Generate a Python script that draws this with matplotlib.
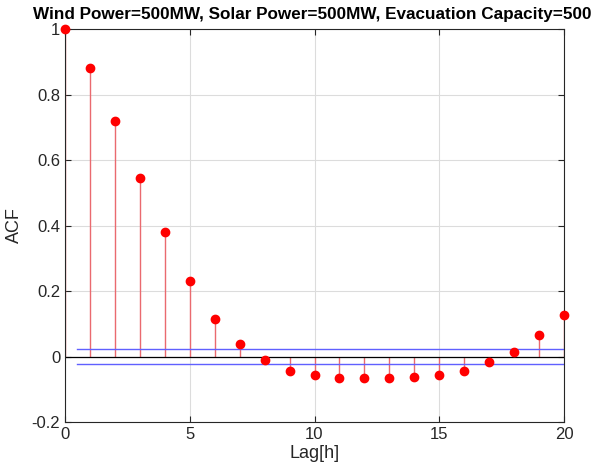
import matplotlib
matplotlib.use("Agg")
import matplotlib.pyplot as plt
from matplotlib.ticker import FuncFormatter

plt.rcParams['font.family'] = ['Liberation Sans', 'DejaVu Sans']

lags = list(range(21))
acf = [1.0, 0.881, 0.72, 0.546, 0.381, 0.232, 0.116, 0.038, -0.012, -0.043,
       -0.058, -0.065, -0.067, -0.067, -0.064, -0.057, -0.043, -0.018, 0.015,
       0.065, 0.128]
bound = 0.0215
bound_x = [0.5, 20]
title = "Wind Power=500MW, Solar Power=500MW, Evacuation Capacity=500"

fig = plt.figure(figsize=(5.92, 4.74), dpi=100)
ax = fig.add_axes([0.1098, 0.1097, 0.8429, 0.8291])

ax.grid(True, color='#dcdcdc', linewidth=0.8)
ax.set_axisbelow(True)

ax.vlines(lags, 0, acf, colors='#ea6a6f', linewidth=1.0, zorder=2)
ax.plot(lags, acf, 'o', color='#ff0000', markersize=6, zorder=3, clip_on=False)
ax.axhline(0, color='black', linewidth=0.9, zorder=2)
ax.plot(bound_x, [bound, bound], color='#6060ff', linewidth=1.0, zorder=2)
ax.plot(bound_x, [-bound, -bound], color='#6060ff', linewidth=1.0, zorder=2)

ax.set_xlim(0, 20)
ax.set_ylim(-0.2, 1.0)
ax.set_xticks([0, 5, 10, 15, 20])
ax.set_yticks([-0.2, 0, 0.2, 0.4, 0.6, 0.8, 1.0])
ax.yaxis.set_major_formatter(FuncFormatter(lambda v, p: f"{v:g}" if abs(v) > 1e-9 else "0"))
ax.tick_params(direction='in', length=4, labelsize=12, colors='#262626', top=True, right=True)
for s in ax.spines.values():
    s.set_color('#262626')
    s.set_linewidth(0.8)

ax.set_xlabel('Lag[h]', fontsize=13, color='#262626', labelpad=2)
ax.set_ylabel('ACF', fontsize=13, color='#262626', labelpad=6)
ax.set_title(title, fontsize=12.3, fontweight='bold', pad=7, x=0.496)

fig.savefig('out.png', dpi=100)
